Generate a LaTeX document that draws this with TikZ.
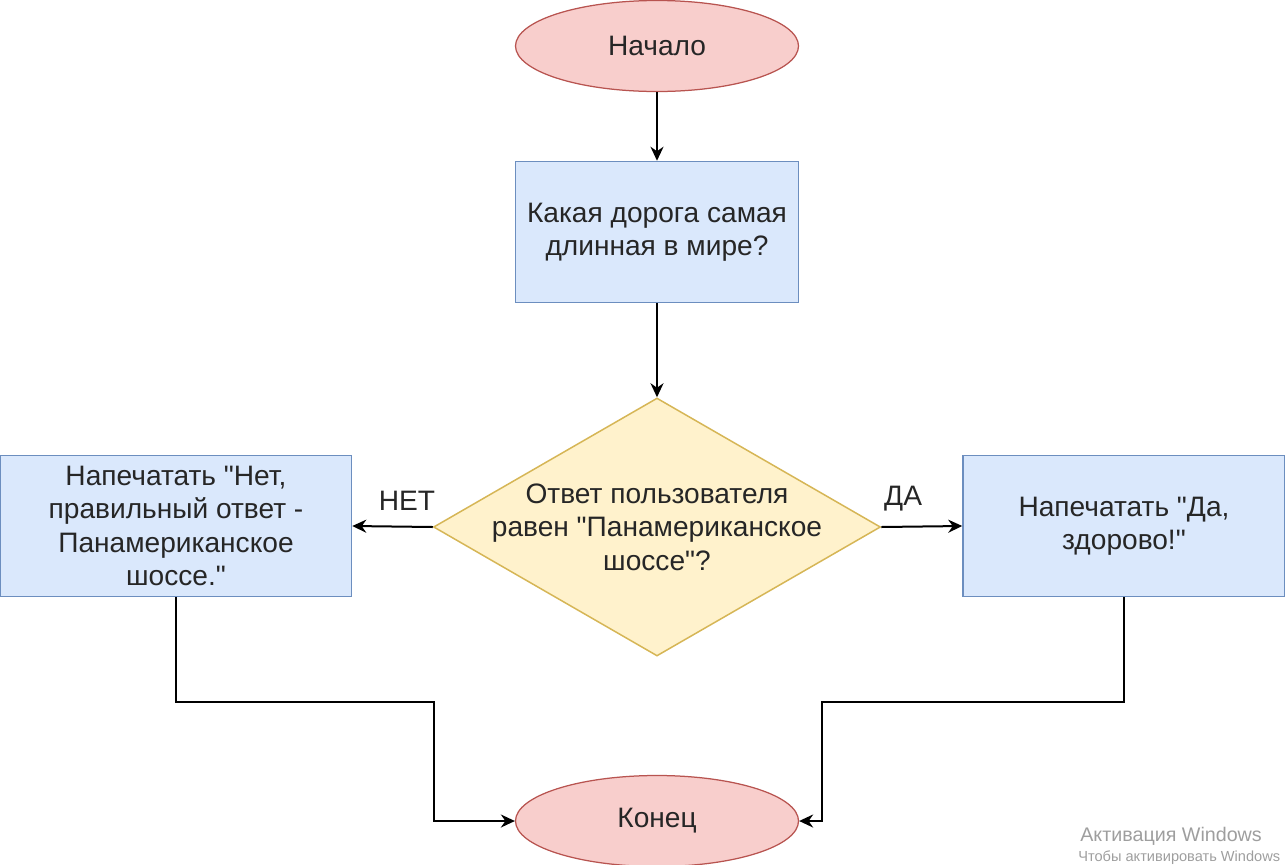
\documentclass[tikz,border=0pt]{standalone}
\usepackage{fontspec}
\setmainfont{Liberation Sans}
\usetikzlibrary{arrows.meta,shapes.geometric}

\definecolor{termfill}{HTML}{F8CECC}
\definecolor{termdraw}{HTML}{B85450}
\definecolor{boxfill}{HTML}{DAE8FC}
\definecolor{boxdraw}{HTML}{6C8EBF}
\definecolor{askfill}{HTML}{FFF2CC}
\definecolor{askdraw}{HTML}{D6B656}

\tikzset{
	every node/.style={font=\fontsize{16}{19}\selectfont, text=black!85},
	terminal/.style={ellipse, draw=termdraw, fill=termfill, line width=0.25mm, minimum width=56.6mm, minimum height=18.2mm, inner sep=0pt},
	action/.style={rectangle, draw=boxdraw, fill=boxfill, line width=0.3mm, minimum height=28.2mm, align=center},
	decision/.style={diamond, aspect=1.73, draw=askdraw, fill=askfill, line width=0.3mm, minimum width=89.4mm, minimum height=51.6mm, inner sep=-2mm, align=center},
	flow/.style={-{Stealth[length=2.8mm,width=2.6mm,inset=0.9mm]}, line width=0.4mm},
	winmark/.style={anchor=base west, inner sep=0pt, text=black!38}
}

\begin{document}
\begin{tikzpicture}[x=0.2mm,y=-0.2mm]
	%%%%% START %%%%%
	\useasboundingbox (0,0) rectangle (1285,864);
	
	\node[terminal] (start) at (657,46) {Начало};
	\node[action, minimum width=56.6mm] (question) at (657,232) {Какая дорога самая\\длинная в мире?};
	\node[decision] (check) at (657,527) {Ответ пользователя\\равен \textquotedbl Панамериканское\\шоссе\textquotedbl?};
	
	\node[action, minimum width=70.2mm] (no) at (176,526) {Напечатать \textquotedbl Нет,\\правильный ответ -\\Панамериканское\\шоссе.\textquotedbl};
	\node[action, minimum width=64.4mm] (yes) at (1124,526) {Напечатать \textquotedbl Да,\\здорово!\textquotedbl};
	
	\node[terminal] (stop) at (657,821) {Конец};
	
	\coordinate (nobend) at (434,702);
	\coordinate (yesbend) at (822,702);
	
	\draw[flow] (start) -- (question);
	\draw[flow] (question) -- (check);
	\draw[flow] (check.west) -- node[pos=0.32, above=3mm, inner sep=0pt] (nolabel) {НЕТ} (no.east);
	\draw[flow] (check.east) -- node[pos=0.27, above=3mm, inner sep=0pt] (yeslabel) {ДА} (yes.west);
	\draw[flow] (no) |- (nobend) |- (stop.west);
	\draw[flow] (yes) |- (yesbend) |- (stop.east);
	
	\node[winmark, font=\fontsize{11.2}{14}\selectfont] (wmtitle) at (1080,841) {Активация Windows};
	\node[winmark, font=\fontsize{8.3}{10}\selectfont] (wmtext) at (1078,861) {Чтобы активировать Windows};
	
	%%%%% END %%%%%
\end{tikzpicture}
\end{document}
